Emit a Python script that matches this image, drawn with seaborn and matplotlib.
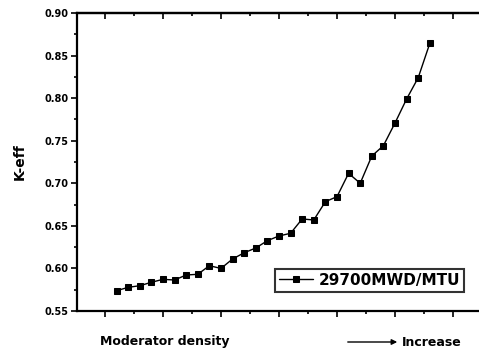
import numpy as np
import pandas as pd
import matplotlib
matplotlib.use("Agg")
import matplotlib.pyplot as plt
from matplotlib.ticker import MultipleLocator
import seaborn as sns

# moderator density index (increasing) and k-eff at 29700 MWD/MTU
density_step = list(range(1, 29))
k_eff = [0.5738, 0.5778, 0.5797, 0.5837, 0.5872, 0.5864, 0.5923, 0.5931,
         0.6032, 0.6000, 0.6111, 0.6184, 0.6240, 0.6326, 0.6381, 0.6413,
         0.6581, 0.6569, 0.6784, 0.6843, 0.7117, 0.7000, 0.7320, 0.7442,
         0.7708, 0.7990, 0.8240, 0.8644]
series_label = "29700MWD/MTU"
y_ticks = [0.55, 0.60, 0.65, 0.70, 0.75, 0.80, 0.85, 0.90]

df = pd.DataFrame({"density": density_step, "keff": k_eff, "case": series_label})

sns.set_theme(style="ticks")
plt.rcParams["font.family"] = ["DejaVu Sans"]
plt.rcParams["text.color"] = "black"
plt.rcParams["axes.labelcolor"] = "black"
plt.rcParams["xtick.color"] = "black"
plt.rcParams["ytick.color"] = "black"

fig = plt.figure(figsize=(4.79, 3.63), dpi=100)
ax = fig.add_axes([77 / 479, 1 - 311 / 363, 402 / 479, 298 / 363])

sns.lineplot(data=df, x="density", y="keff", hue="case", palette=["black"],
             marker="s", markersize=4.5, markeredgecolor="black",
             linewidth=1.0, ax=ax)

ax.set_xlim(-2.41, 32.24)
ax.set_ylim(0.55, 0.90)
ax.set_yticks(y_ticks)
ax.set_yticklabels([f"{v:.2f}" for v in y_ticks], fontsize=7,
                   fontweight="bold", color="black")
ax.yaxis.set_minor_locator(MultipleLocator(0.025))
ax.set_xticks(range(0, 35, 5))
ax.xaxis.set_minor_locator(MultipleLocator(2.5))
ax.set_xticklabels([])
ax.tick_params(axis="x", which="both", direction="out", top=False, bottom=True,
               length=4, width=1.2, color="black")
ax.tick_params(axis="x", which="minor", length=2)
ax.tick_params(axis="y", which="both", direction="out", left=True, length=4,
               width=1.2, color="black", pad=2)
ax.tick_params(axis="y", which="minor", length=2)

# ticks on the top border point inward
top = ax.secondary_xaxis("top")
top.set_xticks(range(0, 35, 5))
top.xaxis.set_minor_locator(MultipleLocator(2.5))
top.set_xticklabels([])
top.tick_params(axis="x", which="both", direction="in", length=4, width=1.2,
                color="black")
top.tick_params(axis="x", which="minor", length=2)
top.spines["top"].set_linewidth(1.6)
top.spines["top"].set_color("black")

for side in ["left", "bottom", "top"]:
    ax.spines[side].set_visible(True)
    ax.spines[side].set_color("black")
    ax.spines[side].set_linewidth(1.6)
ax.spines["right"].set_visible(False)

ax.set_xlabel("")
ax.set_ylabel("K-eff", fontsize=10, fontweight="bold", labelpad=13,
              color="black")

leg = ax.legend(loc="lower right", bbox_to_anchor=(0.963, 0.065),
                fontsize=11, frameon=True, fancybox=False, handlelength=2.2,
                borderpad=0.25, handletextpad=0.4, borderaxespad=0)
leg.get_frame().set_edgecolor("black")
leg.get_frame().set_linewidth(1.5)
for t in leg.get_texts():
    t.set_fontweight("bold")
    t.set_color("black")

fig.text(100 / 479, 1 - 342 / 363, "Moderator density", fontsize=9,
         fontweight="bold", va="center", ha="left", color="black")
fig.text(402 / 479, 1 - 342 / 363, "Increase", fontsize=9,
         fontweight="bold", va="center", ha="left", color="black")
fig.add_artist(matplotlib.patches.FancyArrowPatch(
    (345 / 479, 1 - 342 / 363), (400 / 479, 1 - 342 / 363),
    transform=fig.transFigure, arrowstyle="-|>", mutation_scale=8,
    color="black", linewidth=1.0))

fig.savefig("out.png", dpi=100)
